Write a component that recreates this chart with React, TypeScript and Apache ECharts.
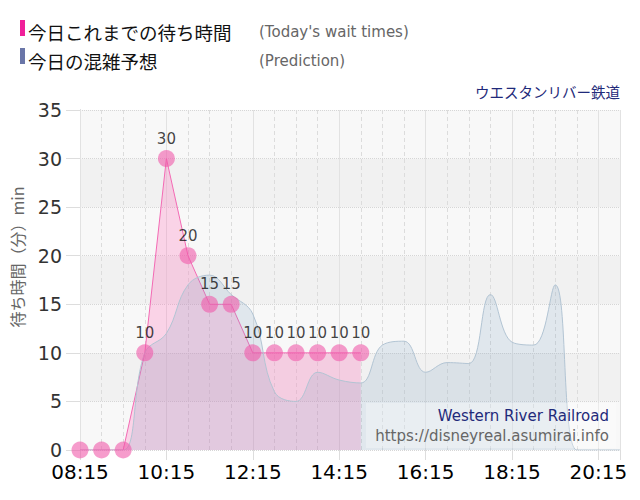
import React, { useEffect, useRef } from "react";
import * as echarts from "echarts";

// Today's actual wait times (30-min steps)
const waitTimeLabels = ["08:15", "08:45", "09:15", "09:45", "10:15", "10:45", "11:15", "11:45", "12:15", "12:45", "13:15", "13:45", "14:15", "14:45"];
const waitTimes = [0, 0, 0, 10, 30, 20, 15, 15, 10, 10, 10, 10, 10, 10];

// Today's predicted congestion (30-min steps)
const predictionLabels = ["08:15", "08:45", "09:15", "09:45", "10:15", "10:45", "11:15", "11:45", "12:15", "12:45", "13:15", "13:45", "14:15", "14:45", "15:15", "15:45", "16:15", "16:45", "17:15", "17:45", "18:15", "18:45", "19:15", "19:45", "20:15", "20:45"];
const predictionValues = [0, 0, 0, 10, 12, 17, 18, 16, 14, 6, 5, 8, 7.2, 6.9, 10.8, 11.2, 8, 9, 8.9, 16, 11.1, 10.8, 17, 0, 0, 0];

const axisStart = "08:15";
const axisEnd = "20:45";
const xTickLabels = ["08:15", "10:15", "12:15", "14:15", "16:15", "18:15", "20:15"];

const toMin = (s: string) => {
  const [h, m] = s.split(":").map(Number);
  return h * 60 + m;
};
const base = toMin(axisStart);
const rel = (s: string) => toMin(s) - base;
const fmt = (v: number) => {
  const t = v + base;
  const hh = Math.floor(t / 60);
  const mm = t % 60;
  const lab = String(hh).padStart(2, "0") + ":" + String(mm).padStart(2, "0");
  return xTickLabels.includes(lab) ? lab : "";
};

const LATIN = "DejaVu Sans";
const JP = "Noto Sans CJK JP";

export default function App() {
  const ref = useRef<HTMLDivElement>(null);
  useEffect(() => {
    if (!ref.current) return;
    const chart = echarts.init(ref.current, undefined, { renderer: "svg" });
    const waitData = waitTimeLabels.map((t, i) => [rel(t), waitTimes[i]]);
    const predData = predictionLabels.map((t, i) => [rel(t), predictionValues[i]]);
    const xMax = rel(axisEnd);
    chart.setOption({
      animation: false,
      backgroundColor: "#ffffff",
      grid: { left: 80, right: 20, top: 110, bottom: 50, containLabel: false },
      xAxis: [
        {
          type: "value",
          min: 0,
          max: xMax,
          interval: 120,
          axisLine: { show: false },
          axisTick: { show: true, length: 10, lineStyle: { color: "#dddddd" } },
          axisLabel: { formatter: fmt, fontSize: 20, color: "#000", fontFamily: LATIN, margin: 12 },
          splitLine: { show: true, lineStyle: { color: "#e2e2e2", width: 1, type: "solid" } },
          z: 1,
        },
        {
          type: "value",
          min: 0,
          max: xMax,
          interval: 30,
          position: "bottom",
          axisLine: { show: false },
          axisTick: { show: false },
          axisLabel: { show: false },
          splitLine: { show: true, lineStyle: { color: "#dcdcdc", width: 1, type: [4, 3] } },
        },
      ],
      yAxis: {
        type: "value",
        min: 0,
        max: 35,
        interval: 5,
        axisLine: { show: true, lineStyle: { color: "#b0b0b8" } },
        axisTick: { show: true, length: 14, lineStyle: { color: "#dddddd" } },
        axisLabel: { fontSize: 19, color: "#333", fontFamily: LATIN, margin: 18 },
        splitLine: { show: true, lineStyle: { color: "#d6d6d6", type: "dotted" } },
        splitArea: { show: true, areaStyle: { color: ["#f8f8f8", "#f1f1f1"] } },
      },
      series: [
        {
          name: "waitArea",
          type: "line",
          xAxisIndex: 0,
          data: waitData,
          smooth: false,
          symbol: "none",
          lineStyle: { color: "#f36ab4", width: 1 },
          areaStyle: { color: "rgba(255,105,180,0.37)" },
          z: 2,
        },
        {
          name: "prediction",
          type: "line",
          xAxisIndex: 0,
          data: predData,
          smooth: 0.4,
          showSymbol: false,
          symbol: "none",
          lineStyle: { color: "#b2c4d3", width: 1 },
          areaStyle: { color: "rgba(120,160,190,0.27)" },
          z: 3,
        },
        {
          name: "wait",
          type: "scatter",
          xAxisIndex: 0,
          data: waitData,
          symbol: "circle",
          symbolSize: 17,
          itemStyle: { color: "rgba(240,90,170,0.75)" },
          label: {
            show: true,
            position: "top",
            distance: 4,
            fontSize: 15,
            color: "#111",
            fontFamily: LATIN,
            formatter: (p: any) => (p.value[1] > 0 ? String(p.value[1]) : ""),
          },
          z: 4,
        },
      ],
      graphic: [
        { type: "rect", shape: { x: 20, y: 20, width: 5, height: 16 }, style: { fill: "#f0209a" } },
        { type: "rect", shape: { x: 20, y: 48, width: 5, height: 16 }, style: { fill: "#6a76a8" } },
        {
          type: "text", x: 28, y: 32,
          style: { text: "今日これまでの待ち時間", fontSize: 18.5, fontFamily: JP, fill: "#111", verticalAlign: "middle" },
        },
        {
          type: "text", x: 28, y: 61,
          style: { text: "今日の混雑予想", fontSize: 18.5, fontFamily: JP, fill: "#111", verticalAlign: "middle" },
        },
        {
          type: "text", x: 259, y: 32,
          style: { text: "(Today's wait times)", fontSize: 15, fontFamily: LATIN, fill: "#666", verticalAlign: "middle" },
        },
        {
          type: "text", x: 259, y: 61,
          style: { text: "(Prediction)", fontSize: 15, fontFamily: LATIN, fill: "#666", verticalAlign: "middle" },
        },
        {
          type: "text", x: 620, y: 91,
          style: { text: "ウエスタンリバー鉄道", fontSize: 14.5, fontFamily: JP, fill: "#1f2a7a", align: "right", verticalAlign: "middle" },
        },
        {
          type: "text", x: 17, y: 257, rotation: Math.PI / 2,
          style: { text: "待ち時間（分）min", fontSize: 16, fontFamily: JP, fill: "#666", align: "center", verticalAlign: "middle" },
        },
        {
          type: "rect", shape: { x: 366, y: 403, width: 250, height: 45 },
          style: { fill: "rgba(255,255,255,0.3)" }, z: 10,
        },
        {
          type: "text", x: 609, y: 416, z: 11,
          style: { text: "Western River Railroad", fontSize: 15, fontFamily: LATIN, fill: "#1f2a7a", align: "right", verticalAlign: "middle" },
        },
        {
          type: "text", x: 609, y: 436, z: 11,
          style: { text: "https://disneyreal.asumirai.info", fontSize: 15, fontFamily: LATIN, fill: "#666", align: "right", verticalAlign: "middle" },
        },
      ],
    });
    return () => chart.dispose();
  }, []);
  return (
    <div style={{ position: "fixed", left: 0, top: 0, width: 640, height: 500 }}>
      <div ref={ref} style={{ width: 640, height: 500 }} />
    </div>
  );
}
